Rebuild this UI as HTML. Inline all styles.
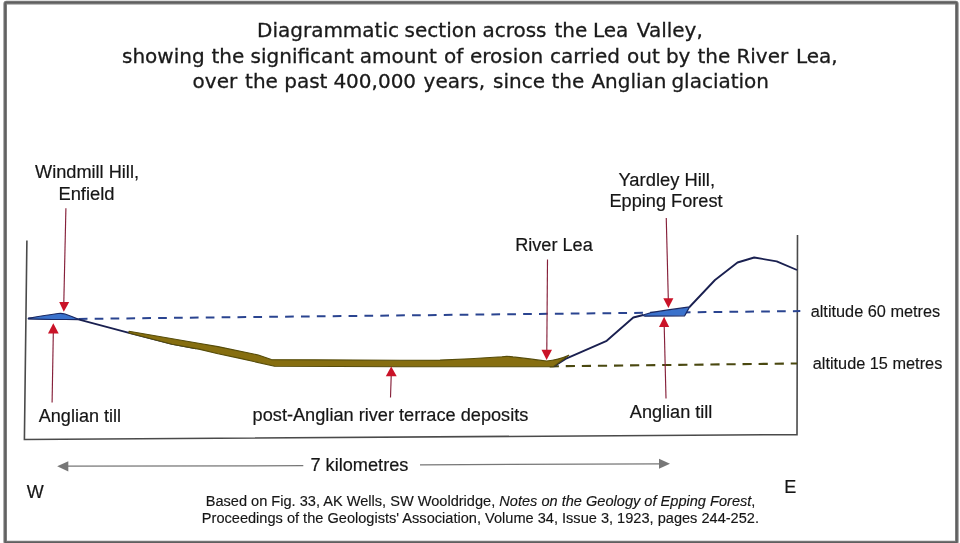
<!DOCTYPE html>
<html lang="en">
<head>
<meta charset="utf-8">
<title>Diagrammatic section across the Lea Valley</title>
<style>
  html, body { margin: 0; padding: 0; background: #ffffff; }
  body { width: 960px; height: 543px; overflow: hidden; }
  svg { display: block; opacity: 0.9999; will-change: transform; }
  .ttl { font-family: "DejaVu Sans", "Liberation Sans", sans-serif; font-size: 20px; fill: #1a1a1a; stroke: #1a1a1a; stroke-width: 0.3px; }
  .lbl { font-family: "Liberation Sans", Arial, sans-serif; font-size: 18px; fill: #161616; stroke: #161616; stroke-width: 0.2px; }
  .alt { font-family: "Liberation Sans", Arial, sans-serif; font-size: 16.3px; fill: #161616; stroke: #161616; stroke-width: 0.15px; }
  .cap { font-family: "Liberation Sans", Arial, sans-serif; font-size: 14.55px; fill: #161616; stroke: #161616; stroke-width: 0.15px; }
  .red { stroke: #86203a; stroke-width: 1.15; fill: none; }
  .head { fill: #ca1328; stroke: none; }
</style>
</head>
<body>
<svg width="960" height="543" viewBox="0 0 960 543">
  <rect x="0" y="0" width="960" height="543" fill="#ffffff"/>

  <!-- outer frame -->
  <rect x="5.2" y="2.6" width="951.6" height="540" rx="1.2" fill="none" stroke="#7c7c7c" stroke-width="3.6"/>
  <rect x="5.2" y="2.6" width="951.6" height="540" rx="1.2" fill="none" stroke="#5f5f5f" stroke-width="1.5"/>

  <!-- title -->
  <g class="ttl">
    <text y="36.8"><tspan x="257.0">Diagrammatic</tspan> <tspan x="404.6">section</tspan> <tspan x="482.4">across</tspan> <tspan x="554.5">the</tspan> <tspan x="593.0">Lea</tspan> <tspan x="636.8">Valley,</tspan></text>
    <text y="62.5"><tspan x="122.0">showing</tspan> <tspan x="211.5">the</tspan> <tspan x="250.6">significant</tspan> <tspan x="359.8">amount</tspan> <tspan x="444.0">of</tspan> <tspan x="470.0">erosion</tspan> <tspan x="550.0">carried</tspan> <tspan x="627.0">out</tspan> <tspan x="665.9">by</tspan> <tspan x="697.5">the</tspan> <tspan x="736.4">River</tspan> <tspan x="796.0">Lea,</tspan></text>
    <text y="88"><tspan x="192.6">over</tspan> <tspan x="245.1">the</tspan> <tspan x="284.2">past</tspan> <tspan x="333.4">400,000</tspan> <tspan x="423.6">years,</tspan> <tspan x="493.0">since</tspan> <tspan x="551.5">the</tspan> <tspan x="591.4">Anglian</tspan> <tspan x="671.4">glaciation</tspan></text>
  </g>

  <!-- chart box: left, bottom, right -->
  <polyline points="26.9,240.4 24.4,439.5 797,434.6 797.5,235" fill="none" stroke="#4a4a4a" stroke-width="1.6" stroke-linejoin="miter"/>

  <!-- altitude dashed lines -->
  <line x1="78.8" y1="318.9" x2="800.3" y2="311.1" stroke="#2a4490" stroke-width="2" stroke-dasharray="8.7 7.17"/>
  <line x1="549.7" y1="366.35" x2="797" y2="363.5" stroke="#4a4810" stroke-width="2.1" stroke-dasharray="9.2 6.87"/>

  <!-- terrain profile line -->
  <polyline points="28.3,318.4 78.3,319.4 129,332.8 172,343.8 196,348.4" fill="none" stroke="#1a2050" stroke-width="1.85" stroke-linejoin="round"/>
  <polyline points="553.8,366.4 565.5,358.9 606.7,340.8 633.3,317.5 643.3,315" fill="none" stroke="#1a2050" stroke-width="1.85" stroke-linejoin="round"/>
  <polyline points="689.5,307 715,280 737.5,262.5 754.2,257.5 776.7,261.3 797,270" fill="none" stroke="#1a2050" stroke-width="1.85" stroke-linejoin="round"/>

  <!-- river terrace deposits (brown) -->
  <path d="M129,331.3 L200,343.5 L218,346.6 L258.3,355 L271.3,359.6 L400,360.3 L440,360.1 L470,358.7 L502,356.7 Q507.5,356 513,356.9 L530,358.9 Q540,360.3 546.7,361 Q558,360 568.8,355.2 L553.3,366.8 L400,366.7 L274.5,366.2 L240,358.4 L218,353.8 L200,349.4 L172,344.3 L129,333 Z" fill="#866e10" stroke="#564c0a" stroke-width="1.1" stroke-linejoin="round"/>

  <!-- Anglian till lenses (blue) -->
  <path d="M28.3,318.3 Q46,315.2 58,313.5 Q61.7,313 65,314 Q72,316.4 78.6,319.4 L52,319.5 L28.3,318.8 Z" fill="#3b72cc" stroke="#1b2962" stroke-width="1.2" stroke-linejoin="round"/>
  <path d="M642.3,315.3 L650.5,312.7 L668,309.9 L689.6,306.9 L684.7,315.8 L645,316.2 Z" fill="#3b72cc" stroke="#1b2962" stroke-width="1.2" stroke-linejoin="round"/>

  <!-- red arrows -->
  <line class="red" x1="65.9" y1="208.3" x2="63.8" y2="303"/>
  <polygon class="head" points="59.2,302 69.2,302 63.8,311.8"/>

  <line class="red" x1="52.1" y1="402.5" x2="53.3" y2="333"/>
  <polygon class="head" points="48,333.5 58.7,333.5 53.3,323.3"/>

  <line class="red" x1="390.5" y1="397.5" x2="391.2" y2="375.5"/>
  <polygon class="head" points="385.8,376.3 396.7,376.3 391.2,366.5"/>

  <line class="red" x1="547.5" y1="259.5" x2="546.8" y2="350.5"/>
  <polygon class="head" points="541.5,349.7 552,349.7 546.6,360"/>

  <line class="red" x1="666.25" y1="218" x2="668.3" y2="299"/>
  <polygon class="head" points="663.3,298.2 673.4,298.2 668.4,308.1"/>

  <line class="red" x1="666" y1="398.5" x2="664.2" y2="326"/>
  <polygon class="head" points="659,326.9 669.2,326.9 664.1,316.8"/>

  <!-- 7 km arrow -->
  <line x1="67" y1="466.1" x2="303.3" y2="465.7" stroke="#777777" stroke-width="1.3"/>
  <line x1="420" y1="464.8" x2="660" y2="463.9" stroke="#777777" stroke-width="1.3"/>
  <polygon points="57.2,466.3 68.3,461.2 68.3,471.4" fill="#777777"/>
  <polygon points="670,463.8 659,458.8 659,468.8" fill="#777777"/>

  <!-- labels -->
  <g class="lbl">
    <text x="35" y="178.4" textLength="104" lengthAdjust="spacingAndGlyphs">Windmill Hill,</text>
    <text x="58.4" y="199.7" textLength="56.2" lengthAdjust="spacingAndGlyphs">Enfield</text>
    <text x="618.5" y="185.6" textLength="96.5" lengthAdjust="spacingAndGlyphs">Yardley Hill,</text>
    <text x="609.5" y="206.9" textLength="113" lengthAdjust="spacingAndGlyphs">Epping Forest</text>
    <text x="515.2" y="250.6" textLength="77.6" lengthAdjust="spacingAndGlyphs">River Lea</text>
    <text x="38.8" y="421.8" textLength="82.2" lengthAdjust="spacingAndGlyphs">Anglian till</text>
    <text x="252.6" y="421.2" textLength="275.8" lengthAdjust="spacingAndGlyphs">post-Anglian river terrace deposits</text>
    <text x="629.8" y="417.8" textLength="82.6" lengthAdjust="spacingAndGlyphs">Anglian till</text>
    <text x="310.4" y="470.6" textLength="98" lengthAdjust="spacingAndGlyphs">7 kilometres</text>
    <text x="26.7" y="497.9">W</text>
    <text x="784.3" y="493.3">E</text>
  </g>
  <g class="alt">
    <text x="810.7" y="316.7" textLength="129.5" lengthAdjust="spacingAndGlyphs">altitude 60 metres</text>
    <text x="812.7" y="369" textLength="129.6" lengthAdjust="spacingAndGlyphs">altitude 15 metres</text>
  </g>
  <g class="cap">
    <text x="205.7" y="506" textLength="549.7" lengthAdjust="spacingAndGlyphs">Based on Fig. 33, AK Wells, SW Wooldridge, <tspan font-style="italic">Notes on the Geology of Epping Forest</tspan>,</text>
    <text x="201.8" y="523.1" textLength="557.2" lengthAdjust="spacingAndGlyphs">Proceedings of the Geologists' Association, Volume 34, Issue 3, 1923, pages 244-252.</text>
  </g>
</svg>
</body>
</html>
